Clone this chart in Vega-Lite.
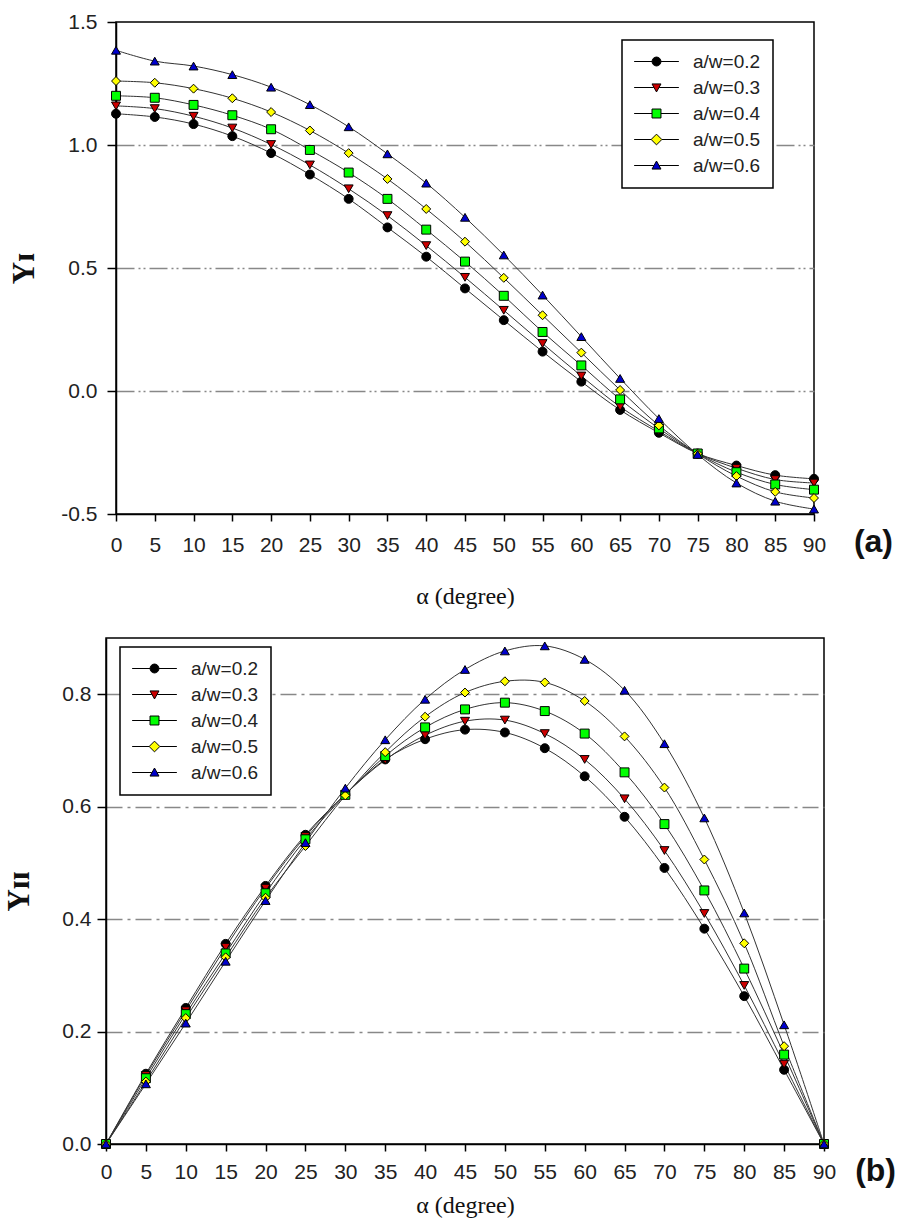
{
  "$schema": "https://vega.github.io/schema/vega-lite/v6.json",
  "background": "white",
  "padding": {"left": 3, "top": 10, "right": 5, "bottom": 3},
  "datasets": {
    "a": [
      {"alpha":0,"s":"a/w=0.2","y":1.127},{"alpha":0,"s":"a/w=0.3","y":1.159},{"alpha":0,"s":"a/w=0.4","y":1.200},{"alpha":0,"s":"a/w=0.5","y":1.260},{"alpha":0,"s":"a/w=0.6","y":1.385},
      {"alpha":5,"s":"a/w=0.2","y":1.114},{"alpha":5,"s":"a/w=0.3","y":1.148},{"alpha":5,"s":"a/w=0.4","y":1.192},{"alpha":5,"s":"a/w=0.5","y":1.253},{"alpha":5,"s":"a/w=0.6","y":1.341},
      {"alpha":10,"s":"a/w=0.2","y":1.085},{"alpha":10,"s":"a/w=0.3","y":1.117},{"alpha":10,"s":"a/w=0.4","y":1.163},{"alpha":10,"s":"a/w=0.5","y":1.229},{"alpha":10,"s":"a/w=0.6","y":1.321},
      {"alpha":15,"s":"a/w=0.2","y":1.036},{"alpha":15,"s":"a/w=0.3","y":1.069},{"alpha":15,"s":"a/w=0.4","y":1.121},{"alpha":15,"s":"a/w=0.5","y":1.190},{"alpha":15,"s":"a/w=0.6","y":1.286},
      {"alpha":20,"s":"a/w=0.2","y":0.967},{"alpha":20,"s":"a/w=0.3","y":1.002},{"alpha":20,"s":"a/w=0.4","y":1.064},{"alpha":20,"s":"a/w=0.5","y":1.134},{"alpha":20,"s":"a/w=0.6","y":1.235},
      {"alpha":25,"s":"a/w=0.2","y":0.880},{"alpha":25,"s":"a/w=0.3","y":0.919},{"alpha":25,"s":"a/w=0.4","y":0.980},{"alpha":25,"s":"a/w=0.5","y":1.059},{"alpha":25,"s":"a/w=0.6","y":1.164},
      {"alpha":30,"s":"a/w=0.2","y":0.781},{"alpha":30,"s":"a/w=0.3","y":0.822},{"alpha":30,"s":"a/w=0.4","y":0.888},{"alpha":30,"s":"a/w=0.5","y":0.967},{"alpha":30,"s":"a/w=0.6","y":1.074},
      {"alpha":35,"s":"a/w=0.2","y":0.665},{"alpha":35,"s":"a/w=0.3","y":0.713},{"alpha":35,"s":"a/w=0.4","y":0.781},{"alpha":35,"s":"a/w=0.5","y":0.862},{"alpha":35,"s":"a/w=0.6","y":0.964},
      {"alpha":40,"s":"a/w=0.2","y":0.546},{"alpha":40,"s":"a/w=0.3","y":0.591},{"alpha":40,"s":"a/w=0.4","y":0.656},{"alpha":40,"s":"a/w=0.5","y":0.740},{"alpha":40,"s":"a/w=0.6","y":0.845},
      {"alpha":45,"s":"a/w=0.2","y":0.417},{"alpha":45,"s":"a/w=0.3","y":0.462},{"alpha":45,"s":"a/w=0.4","y":0.526},{"alpha":45,"s":"a/w=0.5","y":0.607},{"alpha":45,"s":"a/w=0.6","y":0.706},
      {"alpha":50,"s":"a/w=0.2","y":0.288},{"alpha":50,"s":"a/w=0.3","y":0.328},{"alpha":50,"s":"a/w=0.4","y":0.387},{"alpha":50,"s":"a/w=0.5","y":0.460},{"alpha":50,"s":"a/w=0.6","y":0.553},
      {"alpha":55,"s":"a/w=0.2","y":0.160},{"alpha":55,"s":"a/w=0.3","y":0.193},{"alpha":55,"s":"a/w=0.4","y":0.240},{"alpha":55,"s":"a/w=0.5","y":0.308},{"alpha":55,"s":"a/w=0.6","y":0.390},
      {"alpha":60,"s":"a/w=0.2","y":0.038},{"alpha":60,"s":"a/w=0.3","y":0.061},{"alpha":60,"s":"a/w=0.4","y":0.104},{"alpha":60,"s":"a/w=0.5","y":0.156},{"alpha":60,"s":"a/w=0.6","y":0.221},
      {"alpha":65,"s":"a/w=0.2","y":-0.077},{"alpha":65,"s":"a/w=0.3","y":-0.064},{"alpha":65,"s":"a/w=0.4","y":-0.034},{"alpha":65,"s":"a/w=0.5","y":0.004},{"alpha":65,"s":"a/w=0.6","y":0.051},
      {"alpha":70,"s":"a/w=0.2","y":-0.170},{"alpha":70,"s":"a/w=0.3","y":-0.163},{"alpha":70,"s":"a/w=0.4","y":-0.152},{"alpha":70,"s":"a/w=0.5","y":-0.140},{"alpha":70,"s":"a/w=0.6","y":-0.112},
      {"alpha":75,"s":"a/w=0.2","y":-0.254},{"alpha":75,"s":"a/w=0.3","y":-0.254},{"alpha":75,"s":"a/w=0.4","y":-0.254},{"alpha":75,"s":"a/w=0.5","y":-0.255},{"alpha":75,"s":"a/w=0.6","y":-0.258},
      {"alpha":80,"s":"a/w=0.2","y":-0.303},{"alpha":80,"s":"a/w=0.3","y":-0.314},{"alpha":80,"s":"a/w=0.4","y":-0.330},{"alpha":80,"s":"a/w=0.5","y":-0.346},{"alpha":80,"s":"a/w=0.6","y":-0.374},
      {"alpha":85,"s":"a/w=0.2","y":-0.342},{"alpha":85,"s":"a/w=0.3","y":-0.360},{"alpha":85,"s":"a/w=0.4","y":-0.380},{"alpha":85,"s":"a/w=0.5","y":-0.410},{"alpha":85,"s":"a/w=0.6","y":-0.448},
      {"alpha":90,"s":"a/w=0.2","y":-0.357},{"alpha":90,"s":"a/w=0.3","y":-0.374},{"alpha":90,"s":"a/w=0.4","y":-0.401},{"alpha":90,"s":"a/w=0.5","y":-0.435},{"alpha":90,"s":"a/w=0.6","y":-0.480}
    ],
    "b": [
      {"alpha":0,"s":"a/w=0.2","y":0},{"alpha":0,"s":"a/w=0.3","y":0},{"alpha":0,"s":"a/w=0.4","y":0},{"alpha":0,"s":"a/w=0.5","y":0},{"alpha":0,"s":"a/w=0.6","y":0},
      {"alpha":5,"s":"a/w=0.2","y":0.125},{"alpha":5,"s":"a/w=0.3","y":0.122},{"alpha":5,"s":"a/w=0.4","y":0.117},{"alpha":5,"s":"a/w=0.5","y":0.111},{"alpha":5,"s":"a/w=0.6","y":0.107},
      {"alpha":10,"s":"a/w=0.2","y":0.242},{"alpha":10,"s":"a/w=0.3","y":0.237},{"alpha":10,"s":"a/w=0.4","y":0.231},{"alpha":10,"s":"a/w=0.5","y":0.224},{"alpha":10,"s":"a/w=0.6","y":0.215},
      {"alpha":15,"s":"a/w=0.2","y":0.356},{"alpha":15,"s":"a/w=0.3","y":0.350},{"alpha":15,"s":"a/w=0.4","y":0.339},{"alpha":15,"s":"a/w=0.5","y":0.332},{"alpha":15,"s":"a/w=0.6","y":0.325},
      {"alpha":20,"s":"a/w=0.2","y":0.459},{"alpha":20,"s":"a/w=0.3","y":0.455},{"alpha":20,"s":"a/w=0.4","y":0.446},{"alpha":20,"s":"a/w=0.5","y":0.438},{"alpha":20,"s":"a/w=0.6","y":0.433},
      {"alpha":25,"s":"a/w=0.2","y":0.550},{"alpha":25,"s":"a/w=0.3","y":0.547},{"alpha":25,"s":"a/w=0.4","y":0.542},{"alpha":25,"s":"a/w=0.5","y":0.530},{"alpha":25,"s":"a/w=0.6","y":0.536},
      {"alpha":30,"s":"a/w=0.2","y":0.622},{"alpha":30,"s":"a/w=0.3","y":0.622},{"alpha":30,"s":"a/w=0.4","y":0.621},{"alpha":30,"s":"a/w=0.5","y":0.620},{"alpha":30,"s":"a/w=0.6","y":0.633},
      {"alpha":35,"s":"a/w=0.2","y":0.684},{"alpha":35,"s":"a/w=0.3","y":0.683},{"alpha":35,"s":"a/w=0.4","y":0.690},{"alpha":35,"s":"a/w=0.5","y":0.697},{"alpha":35,"s":"a/w=0.6","y":0.719},
      {"alpha":40,"s":"a/w=0.2","y":0.720},{"alpha":40,"s":"a/w=0.3","y":0.727},{"alpha":40,"s":"a/w=0.4","y":0.741},{"alpha":40,"s":"a/w=0.5","y":0.760},{"alpha":40,"s":"a/w=0.6","y":0.791},
      {"alpha":45,"s":"a/w=0.2","y":0.737},{"alpha":45,"s":"a/w=0.3","y":0.752},{"alpha":45,"s":"a/w=0.4","y":0.773},{"alpha":45,"s":"a/w=0.5","y":0.803},{"alpha":45,"s":"a/w=0.6","y":0.844},
      {"alpha":50,"s":"a/w=0.2","y":0.732},{"alpha":50,"s":"a/w=0.3","y":0.754},{"alpha":50,"s":"a/w=0.4","y":0.785},{"alpha":50,"s":"a/w=0.5","y":0.823},{"alpha":50,"s":"a/w=0.6","y":0.877},
      {"alpha":55,"s":"a/w=0.2","y":0.704},{"alpha":55,"s":"a/w=0.3","y":0.730},{"alpha":55,"s":"a/w=0.4","y":0.770},{"alpha":55,"s":"a/w=0.5","y":0.821},{"alpha":55,"s":"a/w=0.6","y":0.886},
      {"alpha":60,"s":"a/w=0.2","y":0.654},{"alpha":60,"s":"a/w=0.3","y":0.684},{"alpha":60,"s":"a/w=0.4","y":0.730},{"alpha":60,"s":"a/w=0.5","y":0.788},{"alpha":60,"s":"a/w=0.6","y":0.862},
      {"alpha":65,"s":"a/w=0.2","y":0.582},{"alpha":65,"s":"a/w=0.3","y":0.614},{"alpha":65,"s":"a/w=0.4","y":0.661},{"alpha":65,"s":"a/w=0.5","y":0.725},{"alpha":65,"s":"a/w=0.6","y":0.807},
      {"alpha":70,"s":"a/w=0.2","y":0.491},{"alpha":70,"s":"a/w=0.3","y":0.522},{"alpha":70,"s":"a/w=0.4","y":0.569},{"alpha":70,"s":"a/w=0.5","y":0.634},{"alpha":70,"s":"a/w=0.6","y":0.712},
      {"alpha":75,"s":"a/w=0.2","y":0.383},{"alpha":75,"s":"a/w=0.3","y":0.410},{"alpha":75,"s":"a/w=0.4","y":0.451},{"alpha":75,"s":"a/w=0.5","y":0.506},{"alpha":75,"s":"a/w=0.6","y":0.580},
      {"alpha":80,"s":"a/w=0.2","y":0.263},{"alpha":80,"s":"a/w=0.3","y":0.282},{"alpha":80,"s":"a/w=0.4","y":0.312},{"alpha":80,"s":"a/w=0.5","y":0.357},{"alpha":80,"s":"a/w=0.6","y":0.411},
      {"alpha":85,"s":"a/w=0.2","y":0.132},{"alpha":85,"s":"a/w=0.3","y":0.142},{"alpha":85,"s":"a/w=0.4","y":0.159},{"alpha":85,"s":"a/w=0.5","y":0.174},{"alpha":85,"s":"a/w=0.6","y":0.212},
      {"alpha":90,"s":"a/w=0.2","y":0},{"alpha":90,"s":"a/w=0.3","y":0},{"alpha":90,"s":"a/w=0.4","y":0},{"alpha":90,"s":"a/w=0.5","y":0},{"alpha":90,"s":"a/w=0.6","y":0}
    ]
  },
  "config": {
    "view": {"stroke": "black", "strokeWidth": 1.5},
    "axis": {
      "labelFont": "Liberation Sans", "labelFontSize": 21, "labelColor": "#222",
      "domainColor": "black", "domainWidth": 1.5, "tickColor": "black", "tickWidth": 1.5,
      "titleFont": "Liberation Serif", "titleColor": "#111", "titleFontWeight": "normal"
    },
    "legend": {
      "title": null, "orient": "none", "strokeColor": "black", "fillColor": "white", "strokeWidth": 1.5,
      "padding": 12, "labelFont": "Liberation Sans", "labelFontSize": 19, "labelColor": "#222",
      "symbolStrokeColor": "black", "symbolStrokeWidth": 1, "symbolSize": 80,
      "rowPadding": 6, "labelOffset": 27, "symbolOffset": 13
    }
  },
  "bounds": "flush",
  "center": true,
  "spacing": 124,
  "vconcat": [
    {
      "width": 698, "height": 492,
      "data": {"name": "a"},
      "title": {"text": "(a)", "orient": "bottom", "anchor": "end", "frame": "group", "font": "Liberation Sans", "fontSize": 32, "fontWeight": "bold", "color": "#111", "dx": 79, "dy": -85},
      "resolve": {"scale": {"fill": "independent", "shape": "independent", "stroke": "independent"}},
      "encoding": {
        "x": {"field": "alpha", "type": "quantitative", "scale": {"domain": [0, 90], "nice": false},
          "axis": {"values": [0,5,10,15,20,25,30,35,40,45,50,55,60,65,70,75,80,85,90], "title": "α (degree)", "grid": false, "tickSize": 7, "labelPadding": 13, "titleFontSize": 24, "titlePadding": 29, "labelFlush": false}},
        "y": {"field": "y", "type": "quantitative", "scale": {"domain": [-0.5, 1.5], "nice": false, "zero": false},
          "axis": {"values": [-0.5, 0, 0.5, 1, 1.5], "labelExpr": "datum.value < 0 ? '-' + format(-datum.value, '.1f') : format(datum.value, '.1f')",
            "title": "Yɪ", "titleFontWeight": "bold", "titleFontSize": 31, "titlePadding": 20, "tickSize": 9, "labelPadding": 10,
            "grid": true, "gridColor": "#888", "gridWidth": 1.5, "gridDash": [18, 4, 2, 3, 2, 4],
            "gridOpacity": {"condition": {"test": "datum.value == 1.5 || datum.value == -0.5", "value": 0}, "value": 1}}}
      },
      "layer": [
        {"mark": {"type": "line", "interpolate": "catmull-rom", "color": "#333", "strokeWidth": 1},
         "encoding": {"detail": {"field": "s", "type": "nominal"}}},
        {"mark": {"type": "point", "filled": true, "size": 80, "stroke": "black", "strokeWidth": 1, "opacity": 1},
         "encoding": {
           "fill": {"field": "s", "type": "nominal", "legend": null,
             "scale": {"domain": ["a/w=0.2","a/w=0.3","a/w=0.4","a/w=0.5","a/w=0.6"], "range": ["#000000","#cc0000","#00ff00","#ffff00","#0000cc"]}},
           "shape": {"field": "s", "type": "nominal", "legend": null,
             "scale": {"domain": ["a/w=0.2","a/w=0.3","a/w=0.4","a/w=0.5","a/w=0.6"], "range": ["circle","triangle-down","square","diamond","triangle-up"]}}
         }},
        {"transform": [{"filter": "false"}],
         "mark": {"type": "point", "filled": true, "size": 80, "strokeWidth": 1, "opacity": 1},
         "encoding": {
           "fill": {"field": "s", "type": "nominal",
             "scale": {"domain": ["a/w=0.2","a/w=0.3","a/w=0.4","a/w=0.5","a/w=0.6"], "range": ["#000000","#cc0000","#00ff00","#ffff00","#0000cc"]},
             "legend": {"legendX": 506, "legendY": 18, "labelExpr": "datum.label + '\u00a0\u00a0\u00a0'"}},
           "stroke": {"field": "s", "type": "nominal",
             "scale": {"domain": ["a/w=0.2","a/w=0.3","a/w=0.4","a/w=0.5","a/w=0.6"], "range": ["#000000","#000000","#000000","#000000","#000000"]},
             "legend": {"legendX": 506, "legendY": 18, "labelExpr": "datum.label + '\u00a0\u00a0\u00a0'"}},
           "shape": {"field": "s", "type": "nominal",
             "scale": {"domain": ["a/w=0.2","a/w=0.3","a/w=0.4","a/w=0.5","a/w=0.6"], "range": [
               "M-5,0H-1M1,0H5M1,0A1,1,0,1,1,-1,0A1,1,0,1,1,1,0Z",
               "M-5,0H-0.6M0.6,0H5M-1,-0.8L1,-0.8L0,1Z",
               "M-5,0H-1M1,0H5M-1,-1H1V1H-1Z",
               "M-5,0H-1.2M1.2,0H5M0,-1.2L1.2,0L0,1.2L-1.2,0Z",
               "M-5,0H-0.6M0.6,0H5M0,-1L1,0.8L-1,0.8Z"]},
             "legend": {"legendX": 506, "legendY": 18, "labelExpr": "datum.label + '\u00a0\u00a0\u00a0'"}}
         }}
      ]
    },
    {
      "width": 718, "height": 506,
      "data": {"name": "b"},
      "title": {"text": "(b)", "orient": "bottom", "anchor": "end", "frame": "group", "font": "Liberation Sans", "fontSize": 32, "fontWeight": "bold", "color": "#111", "dx": 72, "dy": -65},
      "resolve": {"scale": {"fill": "independent", "shape": "independent", "stroke": "independent"}},
      "encoding": {
        "x": {"field": "alpha", "type": "quantitative", "scale": {"domain": [0, 90], "nice": false},
          "axis": {"values": [0,5,10,15,20,25,30,35,40,45,50,55,60,65,70,75,80,85,90], "title": "α (degree)", "grid": false, "tickSize": 7, "labelPadding": 10, "titleFontSize": 24, "titlePadding": 11, "labelFlush": false}},
        "y": {"field": "y", "type": "quantitative", "scale": {"domain": [0, 0.9], "nice": false, "zero": false},
          "axis": {"values": [0, 0.2, 0.4, 0.6, 0.8], "format": ".1f",
            "title": "Yɪɪ", "titleFontWeight": "bold", "titleFontSize": 31, "titlePadding": 26, "tickSize": 9, "labelPadding": 6,
            "grid": true, "gridColor": "#888", "gridWidth": 1.5, "gridDash": [16, 5, 3, 5],
            "gridOpacity": {"condition": {"test": "datum.value == 0", "value": 0}, "value": 1}}}
      },
      "layer": [
        {"mark": {"type": "line", "interpolate": "catmull-rom", "color": "#333", "strokeWidth": 1},
         "encoding": {"detail": {"field": "s", "type": "nominal"}}},
        {"mark": {"type": "point", "filled": true, "size": 80, "stroke": "black", "strokeWidth": 1, "opacity": 1},
         "encoding": {
           "fill": {"field": "s", "type": "nominal", "legend": null,
             "scale": {"domain": ["a/w=0.2","a/w=0.3","a/w=0.4","a/w=0.5","a/w=0.6"], "range": ["#000000","#cc0000","#00ff00","#ffff00","#0000cc"]}},
           "shape": {"field": "s", "type": "nominal", "legend": null,
             "scale": {"domain": ["a/w=0.2","a/w=0.3","a/w=0.4","a/w=0.5","a/w=0.6"], "range": ["circle","triangle-down","square","diamond","triangle-up"]}}
         }},
        {"transform": [{"filter": "false"}],
         "mark": {"type": "point", "filled": true, "size": 80, "strokeWidth": 1, "opacity": 1},
         "encoding": {
           "fill": {"field": "s", "type": "nominal",
             "scale": {"domain": ["a/w=0.2","a/w=0.3","a/w=0.4","a/w=0.5","a/w=0.6"], "range": ["#000000","#cc0000","#00ff00","#ffff00","#0000cc"]},
             "legend": {"legendX": 14, "legendY": 9, "labelExpr": "datum.label + '\u00a0\u00a0\u00a0'"}},
           "stroke": {"field": "s", "type": "nominal",
             "scale": {"domain": ["a/w=0.2","a/w=0.3","a/w=0.4","a/w=0.5","a/w=0.6"], "range": ["#000000","#000000","#000000","#000000","#000000"]},
             "legend": {"legendX": 14, "legendY": 9, "labelExpr": "datum.label + '\u00a0\u00a0\u00a0'"}},
           "shape": {"field": "s", "type": "nominal",
             "scale": {"domain": ["a/w=0.2","a/w=0.3","a/w=0.4","a/w=0.5","a/w=0.6"], "range": [
               "M-5,0H-1M1,0H5M1,0A1,1,0,1,1,-1,0A1,1,0,1,1,1,0Z",
               "M-5,0H-0.6M0.6,0H5M-1,-0.8L1,-0.8L0,1Z",
               "M-5,0H-1M1,0H5M-1,-1H1V1H-1Z",
               "M-5,0H-1.2M1.2,0H5M0,-1.2L1.2,0L0,1.2L-1.2,0Z",
               "M-5,0H-0.6M0.6,0H5M0,-1L1,0.8L-1,0.8Z"]},
             "legend": {"legendX": 14, "legendY": 9, "labelExpr": "datum.label + '\u00a0\u00a0\u00a0'"}}
         }}
      ]
    }
  ]
}
